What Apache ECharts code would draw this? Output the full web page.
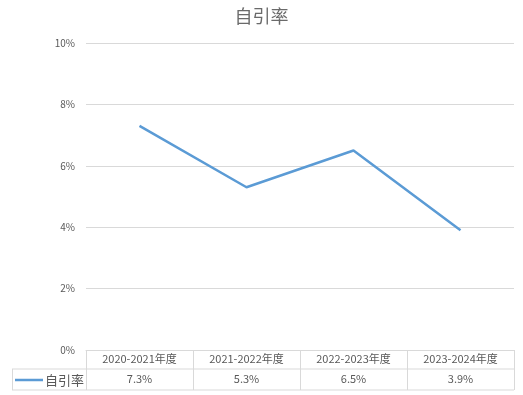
<!DOCTYPE html>
<html><head><meta charset="utf-8">
<script src="https://cdn.jsdelivr.net/npm/echarts@6/dist/echarts.min.js"></script>
<style>html,body{margin:0;padding:0;background:#fff}#c{width:523px;height:395px}</style>
</head><body><div id="c"></div>
<script>
const chartTitle = '自引率';
const seriesName = '自引率';
const categories = ['2020-2021年度', '2021-2022年度', '2022-2023年度', '2023-2024年度'];
const values = [0.073, 0.053, 0.065, 0.039];
const yTicks = [0, 0.02, 0.04, 0.06, 0.08, 0.10];

const FONT = '"Noto Sans CJK SC", "Noto Sans", sans-serif';
const GRID = {left: 86, right: 9, top: 43, bottom: 45};
const W = 523, H = 395;
const gridBottomY = H - GRID.bottom;
const rowH = 20;
const lineColor = '#d9d9d9';
const txt = '#595959';

const chart = echarts.init(document.getElementById('c'), null, {renderer: 'canvas'});
const pct = v => (v * 100).toFixed(1) + '%';

chart.setOption({
  animation: false,
  title: {text: chartTitle, left: 'center', top: 2,
    textStyle: {fontFamily: FONT, fontSize: 18, fontWeight: 'normal', color: '#6a6a6a'}},
  grid: GRID,
  legend: {
    data: [seriesName], left: 15, top: gridBottomY + rowH + 2.5, padding: 0,
    icon: 'rect', itemWidth: 28, itemHeight: 2.5, itemGap: 2,
    textStyle: {fontFamily: FONT, fontSize: 13, lineHeight: 15, color: txt, padding: [0,0,0,-3]}
  },
  xAxis: [
    {type: 'category', data: categories, boundaryGap: true, position: 'bottom',
     axisLine: {lineStyle: {color: lineColor}},
     axisTick: {show: true, length: rowH * 2, lineStyle: {color: lineColor}},
     axisLabel: {margin: 3, fontFamily: FONT, fontSize: 11, color: txt}},
    {type: 'category', data: values.map(pct), boundaryGap: true, position: 'bottom', offset: rowH,
     axisLine: {show: false}, axisTick: {show: false},
     axisLabel: {margin: 3, fontFamily: FONT, fontSize: 11, color: txt}}
  ],
  yAxis: {type: 'value', min: yTicks[0], max: yTicks[yTicks.length - 1],
    interval: yTicks[1] - yTicks[0],
    axisLine: {show: false}, axisTick: {show: false},
    splitLine: {lineStyle: {color: lineColor}},
    axisLabel: {margin: 11, fontFamily: FONT, fontSize: 10, color: txt,
      formatter: v => Math.round(v * 100) + '%'}},
  series: [{name: seriesName, type: 'line', data: values, xAxisIndex: 0,
    showSymbol: false, symbol: 'none',
    lineStyle: {color: '#5b9bd5', width: 2.5}, itemStyle: {color: '#5b9bd5'}}],
  graphic: [
    {type: 'line', shape: {x1: 12, y1: gridBottomY + rowH - 1, x2: W - GRID.right, y2: gridBottomY + rowH - 1},
     style: {stroke: lineColor, lineWidth: 1}},
    {type: 'line', shape: {x1: 12, y1: gridBottomY + rowH * 2, x2: W - GRID.right, y2: gridBottomY + rowH * 2},
     style: {stroke: lineColor, lineWidth: 1}},
    {type: 'line', shape: {x1: 12.5, y1: gridBottomY + rowH - 1, x2: 12.5, y2: gridBottomY + rowH * 2},
     style: {stroke: lineColor, lineWidth: 1}}
  ]
});
</script></body></html>
